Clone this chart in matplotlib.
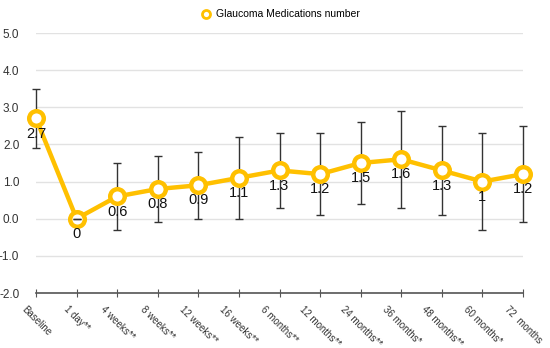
import matplotlib.pyplot as plt
import numpy as np

plt.rcParams['font.family'] = ['Liberation Sans', 'DejaVu Sans']

labels = ['Baseline', '1 day**', '4 weeks**', '8 weeks**', '12 weeks**', '16 weeks**',
          '6 months**', '12 months**', '24 months**', '36 months*', '48 months**',
          '60 months*', '72  months']
values = [2.7, 0, 0.6, 0.8, 0.9, 1.1, 1.3, 1.2, 1.5, 1.6, 1.3, 1.0, 1.2]
errors = [0.8, 0, 0.9, 0.9, 0.9, 1.1, 1.0, 1.1, 1.1, 1.3, 1.2, 1.3, 1.3]
value_text = ['2.7', '0', '0.6', '0.8', '0.9', '1.1', '1.3', '1.2', '1.5', '1.6', '1.3', '1', '1.2']

gold = '#FFC000'

fig = plt.figure(figsize=(5.5, 3.48), dpi=100)
ax = fig.add_axes([36 / 550, (348 - 293) / 348, (523 - 36) / 550, (293 - 33) / 348])

x = np.arange(len(labels))
eb = ax.errorbar(x, values, yerr=errors, fmt='none', ecolor='#333333', elinewidth=1,
                 capsize=3, capthick=1, zorder=2)
for art in eb.lines[1] + eb.lines[2]:
    art.set_clip_on(False)
for cap in eb.lines[1]:
    cap.set_zorder(4)  # caps sit on top of the markers
ax.plot(x, values, color=gold, lw=3.2, marker='o', ms=10.5, mfc='white', mec=gold,
        mew=3.2, zorder=3, clip_on=False, label='Glaucoma Medications number')

for xi, v, t in zip(x, values, value_text):
    ax.text(xi, v - 0.22, t, ha='center', va='top', fontsize=10.5, color='#111111', zorder=4)

for s in ['top', 'right', 'left']:
    ax.spines[s].set_visible(False)
ax.spines['bottom'].set_color('#555555')
ax.spines['bottom'].set_linewidth(1.2)

ax.set_xlim(0, len(labels) - 1)
ax.set_ylim(-2, 5)
ax.set_yticks(np.arange(-2, 5.1, 1))
ax.set_yticklabels([f'{v:.1f}' for v in np.arange(-2, 5.1, 1)])
ax.yaxis.grid(True, color='#e2e2e2', lw=1)
ax.set_axisbelow(True)
ax.tick_params(axis='y', length=0, pad=12, labelsize=8.5, labelcolor='#333333')
ax.set_xticks(x)
ax.set_xticklabels(labels, rotation=-45, ha='center', va='top',
                   fontsize=7, color='#333333')
ax.tick_params(axis='x', direction='inout', length=6, color='#555555', pad=5)
for t in ax.get_xticklines():
    t.set_clip_on(False)

leg = fig.legend(loc='upper center', bbox_to_anchor=(0.51, 1.0), frameon=False,
                 fontsize=7.5, handlelength=1.0, handletextpad=0.4, markerscale=0.55)
for h in leg.legend_handles:
    h.set_linestyle('none')
    h.set_markeredgewidth(2)

fig.savefig('out.png', dpi=100)
